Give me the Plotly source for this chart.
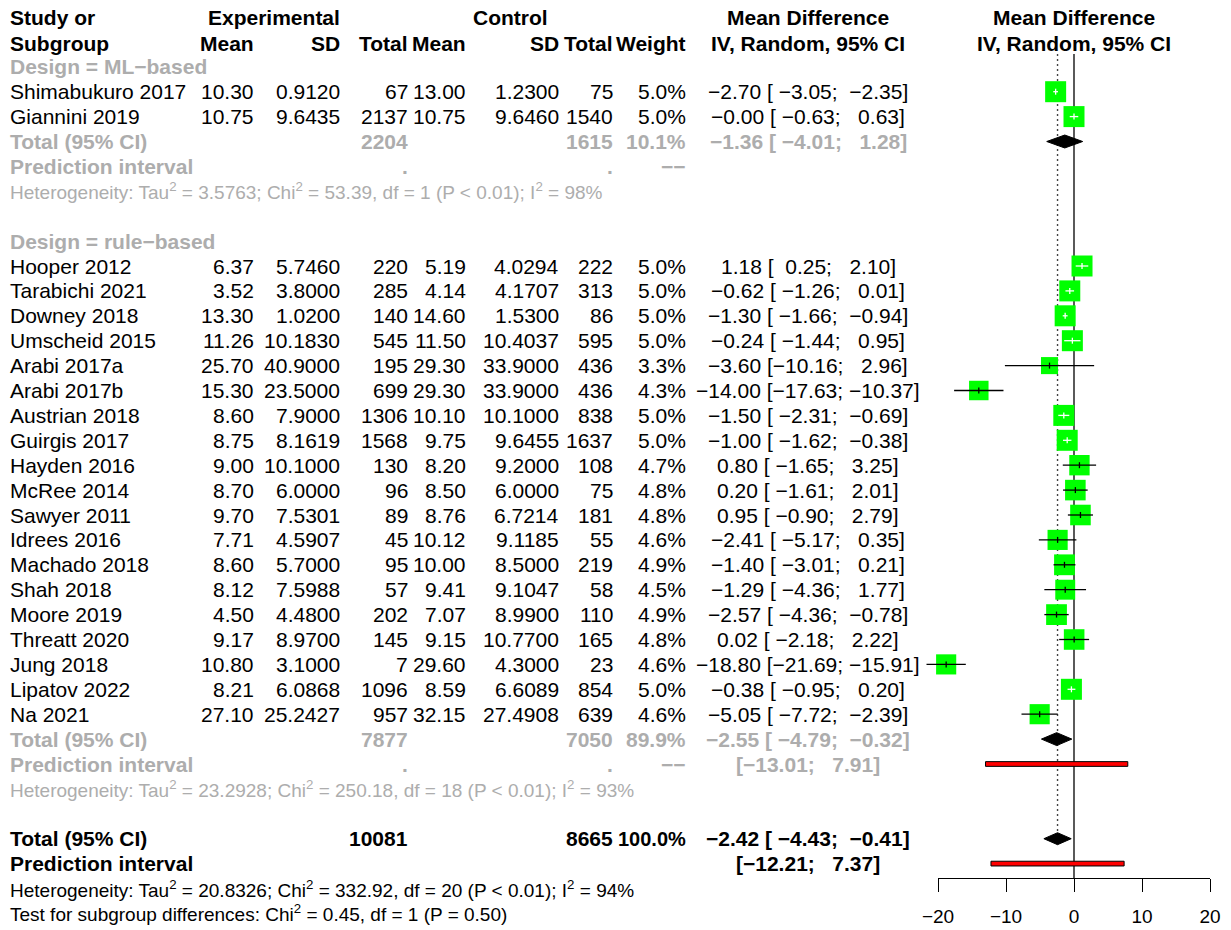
import math
import plotly.graph_objects as go

# ---------------- data ----------------
ml_study = ["Shimabukuro 2017", "Giannini 2019"]
ml_e_mean = [10.30, 10.75]
ml_e_sd = [0.9120, 9.6435]
ml_e_n = [67, 2137]
ml_c_mean = [13.00, 10.75]
ml_c_sd = [1.2300, 9.6460]
ml_c_n = [75, 1540]
ml_weight = [5.0, 5.0]
ml_md = [-2.70, -0.0]
ml_lo = [-3.05, -0.63]
ml_hi = [-2.35, 0.63]

rb_study = ["Hooper 2012", "Tarabichi 2021", "Downey 2018", "Umscheid 2015", "Arabi 2017a",
            "Arabi 2017b", "Austrian 2018", "Guirgis 2017", "Hayden 2016", "McRee 2014",
            "Sawyer 2011", "Idrees 2016", "Machado 2018", "Shah 2018", "Moore 2019",
            "Threatt 2020", "Jung 2018", "Lipatov 2022", "Na 2021"]
rb_e_mean = [6.37, 3.52, 13.30, 11.26, 25.70, 15.30, 8.60, 8.75, 9.00, 8.70, 9.70, 7.71,
             8.60, 8.12, 4.50, 9.17, 10.80, 8.21, 27.10]
rb_e_sd = [5.7460, 3.8000, 1.0200, 10.1830, 40.9000, 23.5000, 7.9000, 8.1619, 10.1000,
           6.0000, 7.5301, 4.5907, 5.7000, 7.5988, 4.4800, 8.9700, 3.1000, 6.0868, 25.2427]
rb_e_n = [220, 285, 140, 545, 195, 699, 1306, 1568, 130, 96, 89, 45, 95, 57, 202, 145, 7,
          1096, 957]
rb_c_mean = [5.19, 4.14, 14.60, 11.50, 29.30, 29.30, 10.10, 9.75, 8.20, 8.50, 8.76, 10.12,
             10.00, 9.41, 7.07, 9.15, 29.60, 8.59, 32.15]
rb_c_sd = [4.0294, 4.1707, 1.5300, 10.4037, 33.9000, 33.9000, 10.1000, 9.6455, 9.2000,
           6.0000, 6.7214, 9.1185, 8.5000, 9.1047, 8.9900, 10.7700, 4.3000, 6.6089, 27.4908]
rb_c_n = [222, 313, 86, 595, 436, 436, 838, 1637, 108, 75, 181, 55, 219, 58, 110, 165, 23,
          854, 639]
rb_weight = [5.0, 5.0, 5.0, 5.0, 3.3, 4.3, 5.0, 5.0, 4.7, 4.8, 4.8, 4.6, 4.9, 4.5, 4.9, 4.8,
             4.6, 5.0, 4.6]
rb_md = [1.18, -0.62, -1.30, -0.24, -3.60, -14.00, -1.50, -1.00, 0.80, 0.20, 0.95, -2.41,
         -1.40, -1.29, -2.57, 0.02, -18.80, -0.38, -5.05]
rb_lo = [0.25, -1.26, -1.66, -1.44, -10.16, -17.63, -2.31, -1.62, -1.65, -1.61, -0.90, -5.17,
         -3.01, -4.36, -4.36, -2.18, -21.69, -0.95, -7.72]
rb_hi = [2.10, 0.01, -0.94, 0.95, 2.96, -10.37, -0.69, -0.38, 3.25, 2.01, 2.79, 0.35, 0.21,
         1.77, -0.78, 2.22, -15.91, 0.20, -2.39]

sub_labels = ["Design = ML−based", "Design = rule−based"]
sub_e_total = [2204, 7877]
sub_c_total = [1615, 7050]
sub_weight = [10.1, 89.9]
sub_md = [-1.36, -2.55]
sub_lo = [-4.01, -4.79]
sub_hi = [1.28, -0.32]
sub_pi = [None, (-13.01, 7.91)]
sub_het = ["Tau<sup>2</sup> = 3.5763; Chi<sup>2</sup> = 53.39, df = 1 (P &lt; 0.01); I<sup>2</sup> = 98%",
           "Tau<sup>2</sup> = 23.2928; Chi<sup>2</sup> = 250.18, df = 18 (P &lt; 0.01); I<sup>2</sup> = 93%"]

tot_e = 10081
tot_c = 8665
tot_weight = 100.0
tot_md, tot_lo, tot_hi = -2.42, -4.43, -0.41
tot_pi = (-12.21, 7.37)
tot_het = "Tau<sup>2</sup> = 20.8326; Chi<sup>2</sup> = 332.92, df = 20 (P &lt; 0.01); I<sup>2</sup> = 94%"
test_sub = "Chi<sup>2</sup> = 0.45, df = 1 (P = 0.50)"

x_ticks = [-20, -10, 0, 10, 20]

# ---------------- layout constants ----------------
W, H = 1231, 930
ROW0_PX, ROW_STEP = 17.0, 24.9
Y_TOP = -ROW0_PX / ROW_STEP
Y_BOT = (H - ROW0_PX) / ROW_STEP
PLOT_L, PLOT_R = 938.0, 1210.0           # -20 .. 20
PX_PER_UNIT = (PLOT_R - PLOT_L) / 40.0
ZERO_PX = (PLOT_L + PLOT_R) / 2
DATA_L, DATA_R = 860.0, 1231.0
AXIS_PX = 878.0

FONT = "Liberation Sans, Arial, Helvetica, sans-serif"
FS = 21
FS_SMALL = 19
BLACK = "#000000"
GREY = "#ADADAD"

COL_STUDY = 10
COL_EM, COL_ESD, COL_EN = 254, 340, 408
COL_CM, COL_CSD, COL_CN = 466, 559, 613
COL_W = 686
COL_MD = 808
COL_EXP_HDR, COL_CTRL_HDR = 340, 548

MINUS = "\u2212"
NB = "\u00a0"


def f(v, d):
    return f"{v:.{d}f}".replace("-", MINUS)


def ci_text(est, lo, hi):
    return (f"{f(est, 2)} [{f(lo, 2):>6}; {f(hi, 2):>6}]").replace(" ", NB)


def pi_text(lo, hi):
    return (f"[{f(lo, 2)}; {f(hi, 2):>6}]").replace(" ", NB)


annotations = []


def txt(x, r, s, anchor="right", bold=False, color=BLACK, size=FS, xref="x"):
    if bold:
        s = f"<b>{s}</b>"
    annotations.append(dict(x=x, y=r, xref=xref, yref="y", text=s, showarrow=False,
                            xanchor=anchor, yanchor="middle", borderpad=0, borderwidth=0,
                            font=dict(family=FONT, size=size, color=color)))


# headers
txt(COL_STUDY, 0, "Study or", "left", True)
txt(COL_STUDY, 1.05, "Subgroup", "left", True)
txt(COL_EXP_HDR, 0, "Experimental", bold=True)
txt(COL_CTRL_HDR, 0, "Control", bold=True)
txt(COL_MD, 0, "Mean Difference", "center", True)
txt(0, 0, "Mean Difference", "center", True, xref="x3")
txt(COL_EM, 1.05, "Mean", bold=True)
txt(COL_ESD, 1.05, "SD", bold=True)
txt(COL_EN, 1.05, "Total", bold=True)
txt(COL_CM, 1.05, "Mean", bold=True)
txt(COL_CSD, 1.05, "SD", bold=True)
txt(COL_CN, 1.05, "Total", bold=True)
txt(COL_W, 1.05, "Weight", bold=True)
txt(COL_MD, 1.05, "IV, Random, 95% CI", "center", True)
txt(0, 1.05, "IV, Random, 95% CI", "center", True, xref="x3")

groups = [
    (ml_study, ml_e_mean, ml_e_sd, ml_e_n, ml_c_mean, ml_c_sd, ml_c_n, ml_weight, ml_md, ml_lo, ml_hi),
    (rb_study, rb_e_mean, rb_e_sd, rb_e_n, rb_c_mean, rb_c_sd, rb_c_n, rb_weight, rb_md, rb_lo, rb_hi),
]

sq_x, sq_y, sq_s = [], [], []
ci_black_x, ci_black_y, ci_white_x, ci_white_y = [], [], [], []
dia_x, dia_y = [], []
pi_x, pi_y = [], []
MAXW = max(ml_weight + rb_weight)
SQ_MAX = 21.0


def add_ci(est, lo, hi, r, size):
    half_units = size / 2 / PX_PER_UNIT
    inside = (est - lo) <= half_units and (hi - est) <= half_units
    xs = ci_white_x if inside else ci_black_x
    ys = ci_white_y if inside else ci_black_y
    xs += [lo, hi, None, est, est, None]
    ys += [r, r, None, r - 0.12, r + 0.12, None]


def add_diamond(est, lo, hi, r, h=0.26):
    dia_x.extend([lo, est, hi, est, lo, None])
    dia_y.extend([r, r - h, r, r + h, r, None])


def add_pi(lo, hi, r, h=0.095):
    pi_x.extend([lo, hi, hi, lo, lo, None])
    pi_y.extend([r - h, r - h, r + h, r + h, r - h, None])


row = 2
for gi, g in enumerate(groups):
    study, em, esd, en, cm, csd, cn, w, md, lo, hi = g
    txt(COL_STUDY, row, sub_labels[gi], "left", True, GREY)
    row += 1
    for i in range(len(study)):
        txt(COL_STUDY, row, study[i], "left")
        txt(COL_EM, row, f(em[i], 2))
        txt(COL_ESD, row, f(esd[i], 4))
        txt(COL_EN, row, str(en[i]))
        txt(COL_CM, row, f(cm[i], 2))
        txt(COL_CSD, row, f(csd[i], 4))
        txt(COL_CN, row, str(cn[i]))
        txt(COL_W, row, f(w[i], 1) + "%")
        txt(COL_MD, row, ci_text(md[i], lo[i], hi[i]), "center")
        size = SQ_MAX * math.sqrt(w[i] / MAXW)
        sq_x.append(md[i]); sq_y.append(row); sq_s.append(size)
        add_ci(md[i], lo[i], hi[i], row, size)
        row += 1
    # subgroup total
    txt(COL_STUDY, row, "Total (95% CI)", "left", True, GREY)
    txt(COL_EN, row, str(sub_e_total[gi]), bold=True, color=GREY)
    txt(COL_CN, row, str(sub_c_total[gi]), bold=True, color=GREY)
    txt(COL_W, row, f(sub_weight[gi], 1) + "%", bold=True, color=GREY)
    txt(COL_MD, row, ci_text(sub_md[gi], sub_lo[gi], sub_hi[gi]), "center", True, GREY)
    add_diamond(sub_md[gi], sub_lo[gi], sub_hi[gi], row)
    row += 1
    txt(COL_STUDY, row, "Prediction interval", "left", True, GREY)
    txt(COL_EN, row, ".", bold=True, color=GREY)
    txt(COL_CN, row, ".", bold=True, color=GREY)
    txt(COL_W, row, "−−", bold=True, color=GREY)
    if sub_pi[gi] is not None:
        txt(COL_MD, row, pi_text(*sub_pi[gi]), "center", True, GREY)
        add_pi(sub_pi[gi][0], sub_pi[gi][1], row)
    row += 1
    txt(COL_STUDY, row, "Heterogeneity: " + sub_het[gi], "left", color=GREY, size=FS_SMALL)
    row += 2

# overall
row_total = row
txt(COL_STUDY, row, "Total (95% CI)", "left", True)
txt(COL_EN, row, str(tot_e), bold=True)
txt(COL_CN, row, str(tot_c), bold=True)
txt(COL_W, row, f(tot_weight, 1) + "%", bold=True, size=20)
txt(COL_MD, row, ci_text(tot_md, tot_lo, tot_hi), "center", True)
add_diamond(tot_md, tot_lo, tot_hi, row, 0.24)
row += 1
txt(COL_STUDY, row, "Prediction interval", "left", True)
txt(COL_MD, row, pi_text(*tot_pi), "center", True)
add_pi(tot_pi[0], tot_pi[1], row)
row += 1
txt(COL_STUDY, row, "Heterogeneity: " + tot_het, "left", size=FS_SMALL)
row += 1
txt(COL_STUDY, row, "Test for subgroup differences: " + test_sub, "left", size=FS_SMALL)

top_line = (54 - ROW0_PX) / ROW_STEP
axis_row = (AXIS_PX - ROW0_PX) / ROW_STEP

fig = go.Figure()
# reference lines
fig.add_trace(go.Scatter(x=[0, 0], y=[top_line, axis_row], mode="lines",
                         line=dict(color=BLACK, width=1.3), xaxis="x2", yaxis="y", hoverinfo="skip"))
fig.add_trace(go.Scatter(x=[tot_md, tot_md], y=[top_line, row_total - 0.24], mode="lines",
                         line=dict(color="#444444", width=1.4, dash="2px,3px"), xaxis="x2", yaxis="y",
                         hoverinfo="skip"))
# squares
fig.add_trace(go.Scatter(x=sq_x, y=sq_y, mode="markers", xaxis="x2", yaxis="y",
                         marker=dict(symbol="square", size=sq_s, color="#00FF00", opacity=1,
                                     line=dict(width=0)),
                         hoverinfo="skip"))
fig.add_trace(go.Scatter(x=ci_black_x, y=ci_black_y, mode="lines", xaxis="x2", yaxis="y",
                         line=dict(color=BLACK, width=1.3), hoverinfo="skip"))
fig.add_trace(go.Scatter(x=ci_white_x, y=ci_white_y, mode="lines", xaxis="x2", yaxis="y",
                         line=dict(color="#FFFFFF", width=1.3), hoverinfo="skip"))
fig.add_trace(go.Scatter(x=dia_x, y=dia_y, mode="lines", fill="toself", fillcolor=BLACK,
                         line=dict(color=BLACK, width=1), xaxis="x2", yaxis="y", hoverinfo="skip"))
fig.add_trace(go.Scatter(x=pi_x, y=pi_y, mode="lines", fill="toself", fillcolor="#FF0000",
                         line=dict(color=BLACK, width=1), xaxis="x2", yaxis="y", hoverinfo="skip"))
# dummy traces so axes exist
fig.add_trace(go.Scatter(x=[None], y=[None], xaxis="x", yaxis="y", hoverinfo="skip"))
fig.add_trace(go.Scatter(x=[None], y=[None], xaxis="x3", yaxis="y", hoverinfo="skip"))

fig.update_layout(
    template="none",
    width=W, height=H, margin=dict(l=0, r=0, t=0, b=0, pad=0, autoexpand=False), autosize=False,
    paper_bgcolor="white", plot_bgcolor="rgba(0,0,0,0)", showlegend=False,
    font=dict(family=FONT, size=FS, color=BLACK),
    xaxis=dict(domain=[0, 1], range=[0, W], visible=False, fixedrange=True, automargin=False),
    yaxis=dict(domain=[0, 1], range=[Y_BOT, Y_TOP], visible=False, fixedrange=True, automargin=False),
    xaxis2=dict(domain=[DATA_L / W, DATA_R / W],
                range=[(DATA_L - ZERO_PX) / PX_PER_UNIT, (DATA_R - ZERO_PX) / PX_PER_UNIT],
                visible=False, anchor="y", fixedrange=True, automargin=False),
    xaxis3=dict(domain=[PLOT_L / W, PLOT_R / W], range=[-20, 20], anchor="free",
                position=1 - AXIS_PX / H, showline=True, linecolor=BLACK, linewidth=1.3,
                ticks="outside", ticklen=13, tickwidth=1.3, tickcolor=BLACK,
                tickvals=x_ticks, ticktext=[f(t, 0) for t in x_ticks],
                tickfont=dict(family=FONT, size=19, color=BLACK), ticklabelstandoff=8,
                showgrid=False, zeroline=False, fixedrange=True, automargin=False),
    annotations=annotations,
)
fig.write_html("out.html")
